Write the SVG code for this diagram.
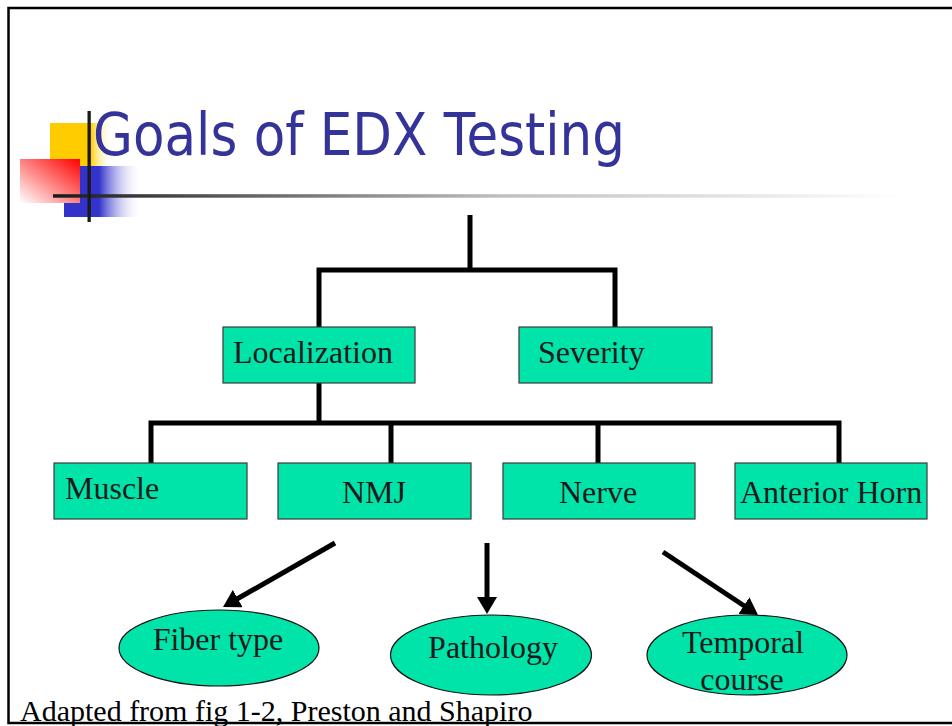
<svg xmlns="http://www.w3.org/2000/svg" width="952" height="726" viewBox="0 0 952 726">
<style>
  .box { fill: #00E4AA; stroke: #3a3a3a; stroke-width: 1.2; }
  .oval { fill: #00E4AA; stroke: #111; stroke-width: 1.2; }
  .lbl { font-family: "Liberation Serif", "Times New Roman", serif; font-size: 32px; fill: #1a1a1a; }
  .wire { fill: none; stroke: #000; stroke-width: 5; stroke-linejoin: miter; stroke-linecap: butt; }
  .arrow { fill: none; stroke: #000; stroke-width: 5; marker-end: url(#head); }
</style>
<defs>
  <marker id="head" viewBox="0 0 17 20" markerWidth="17" markerHeight="20" refX="7" refY="10" orient="auto" markerUnits="userSpaceOnUse">
    <path d="M0,0 L17,10 L0,20 z" fill="#000"/>
  </marker>
  <linearGradient id="gYellow" x1="0" y1="0" x2="1" y2="0">
    <stop offset="0" stop-color="#FFCC00"/>
    <stop offset="0.65" stop-color="#FFCC00"/>
    <stop offset="1" stop-color="#FFFFFF" stop-opacity="0"/>
  </linearGradient>
  <linearGradient id="gBlue" x1="0" y1="0" x2="1" y2="0">
    <stop offset="0" stop-color="#3333CC"/>
    <stop offset="0.45" stop-color="#3333CC"/>
    <stop offset="1" stop-color="#FFFFFF" stop-opacity="0"/>
  </linearGradient>
  <linearGradient id="gRed" x1="0" y1="1" x2="1" y2="0">
    <stop offset="0" stop-color="#FFFFFF"/>
    <stop offset="1" stop-color="#FF0000"/>
  </linearGradient>
  <linearGradient id="gRule" gradientUnits="userSpaceOnUse" x1="53" y1="0" x2="903" y2="0">
    <stop offset="0" stop-color="#1a1a1a"/>
    <stop offset="0.24" stop-color="#666666"/>
    <stop offset="0.53" stop-color="#c0c0c0"/>
    <stop offset="1" stop-color="#FFFFFF"/>
  </linearGradient>
</defs>

<rect x="0" y="0" width="952" height="726" fill="#FFFFFF"/>
<rect x="8.5" y="8" width="960" height="715" fill="none" stroke="#000" stroke-width="2.5"/>

<g id="title-decoration">
  <rect x="50" y="123" width="62" height="43" fill="url(#gYellow)"/>
  <rect x="64" y="166" width="78" height="51" fill="url(#gBlue)"/>
  <rect x="20" y="159" width="60" height="44" fill="url(#gRed)"/>
  <rect x="53" y="194.2" width="850" height="3.5" fill="url(#gRule)"/>
  <rect x="87.5" y="111" width="3.3" height="111" fill="#1a1a1a"/>
</g>

<g id="title">
  <text x="93" y="155" font-family="DejaVu Sans, Verdana, sans-serif" font-size="58" fill="#333399" textLength="532" lengthAdjust="spacingAndGlyphs">Goals of EDX Testing</text>
</g>

<g id="connectors">
  <path class="wire" d="M470,215 V270"/>
  <path class="wire" d="M319,327 V270 H615 V327"/>
  <path class="wire" d="M319,383 V423"/>
  <path class="wire" d="M151,463 V423 H839 V463"/>
  <path class="wire" d="M391,423 V463"/>
  <path class="wire" d="M598,423 V463"/>
  <line class="arrow" x1="335" y1="543" x2="231.7" y2="602"/>
  <line class="arrow" x1="487" y1="543" x2="487" y2="604"/>
  <line class="arrow" x1="663" y1="552" x2="749.7" y2="609.5"/>
</g>

<g id="localization">
  <rect class="box" x="223" y="327" width="192" height="56"/>
  <text class="lbl" x="233" y="363">Localization</text>
</g>
<g id="severity">
  <rect class="box" x="519" y="327" width="193" height="56"/>
  <text class="lbl" x="538" y="363">Severity</text>
</g>

<g id="muscle">
  <rect class="box" x="54" y="463" width="193" height="56"/>
  <text class="lbl" x="65" y="499">Muscle</text>
</g>
<g id="nmj">
  <rect class="box" x="278" y="463" width="193" height="56"/>
  <text class="lbl" x="342" y="503">NMJ</text>
</g>
<g id="nerve">
  <rect class="box" x="503" y="463" width="192" height="56"/>
  <text class="lbl" x="559" y="503">Nerve</text>
</g>
<g id="anterior-horn">
  <rect class="box" x="735" y="463" width="192" height="56"/>
  <text class="lbl" x="740" y="503">Anterior Horn</text>
</g>

<g id="fiber-type">
  <ellipse class="oval" cx="219" cy="648" rx="100" ry="38"/>
  <text class="lbl" x="218" y="650" text-anchor="middle">Fiber type</text>
</g>
<g id="pathology">
  <ellipse class="oval" cx="491" cy="655" rx="100.5" ry="40"/>
  <text class="lbl" x="493" y="658" text-anchor="middle">Pathology</text>
</g>
<g id="temporal-course">
  <ellipse class="oval" cx="747" cy="655" rx="100" ry="40"/>
  <text class="lbl" x="743" y="653" text-anchor="middle">Temporal</text>
  <text class="lbl" x="742" y="690" text-anchor="middle">course</text>
</g>

<g id="caption">
  <text x="20" y="721" font-family="Liberation Serif, Times New Roman, serif" font-size="30" fill="#000">Adapted from fig 1-2, Preston and Shapiro</text>
</g>
</svg>
